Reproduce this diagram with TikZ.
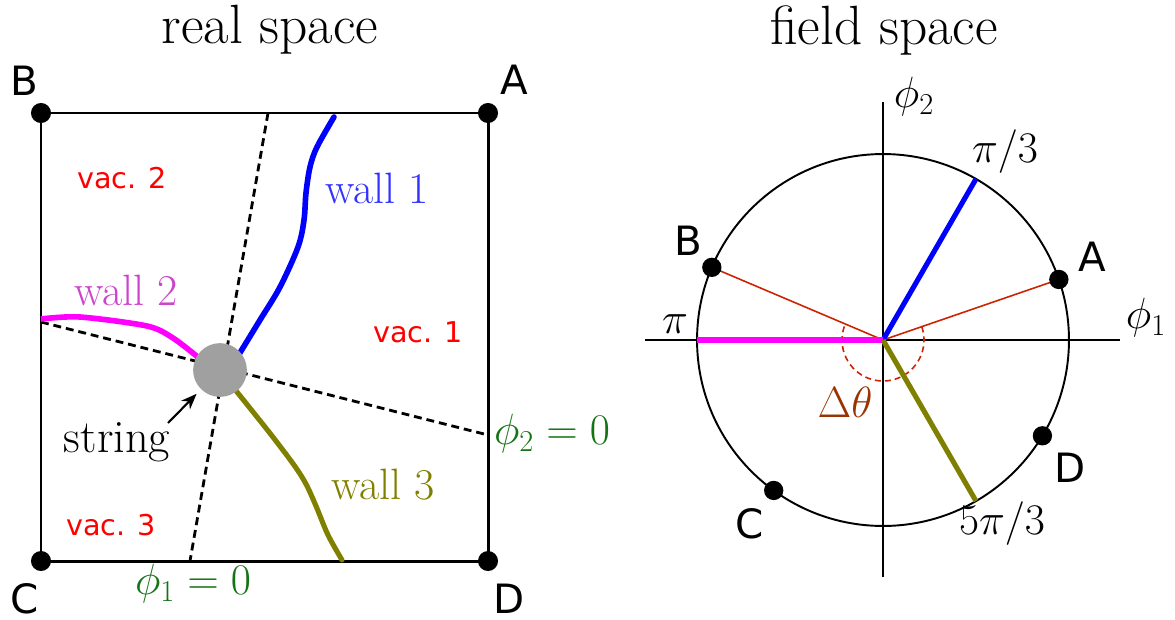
\documentclass[tikz,border=0pt]{standalone}
\usepackage{fontspec}
\newfontfamily\dejavu{DejaVu Sans}
\usetikzlibrary{arrows.meta,calc}
\definecolor{wallblue}{RGB}{0,0,255}
\definecolor{wallbluetext}{RGB}{51,51,255}
\definecolor{wallmag}{RGB}{255,0,255}
\definecolor{wallmagtext}{RGB}{204,68,204}
\definecolor{wallolive}{RGB}{128,128,0}
\definecolor{phigreen}{RGB}{20,115,20}
\definecolor{vacred}{RGB}{255,0,0}
\definecolor{linered}{RGB}{204,34,0}
\definecolor{dtheta}{RGB}{153,51,0}
\definecolor{strgray}{RGB}{160,160,160}
\tikzset{
  cornerdot/.style={circle,fill=black,inner sep=0pt,minimum size=11.4pt},
  cornerlbl/.style={font=\dejavu\fontsize{23}{27}\selectfont,inner sep=0pt},
  vaclbl/.style={font=\dejavu\fontsize{16.3}{19}\selectfont,text=vacred,inner sep=0pt},
  titlelbl/.style={font=\fontsize{31.5}{36}\selectfont,inner sep=0pt},
  walllbl/.style={font=\fontsize{25}{29}\selectfont,inner sep=0pt},
  mathlbl/.style={font=\fontsize{23}{27}\selectfont,inner sep=0pt},
  border/.style={line width=1.7pt},
  zeroline/.style={line width=1.6pt,dash pattern=on 4.5pt off 2.8pt},
  wallline/.style={line width=3.2pt,line cap=round},
  fieldline/.style={line width=2.9pt},
  axisline/.style={line width=1.1pt},
  redline/.style={line width=0.9pt,draw=linered},
}
\begin{document}
\begin{tikzpicture}[x=0.02cm,y=-0.02cm]
\useasboundingbox (0,0) rectangle (1175,619);
% ---------------- real space ----------------
\node[titlelbl] (t1) at (270,30) {real space};
\coordinate (Bc) at (41,113);
\coordinate (Ac) at (488,113);
\coordinate (Cc) at (41,561);
\coordinate (Dc) at (488,561);
\draw[border] (Bc) -- (Ac) -- (Dc) -- (Cc) -- cycle;
% zero lines
\coordinate (p1top) at (268,113);
\coordinate (p1bot) at (190,561);
\coordinate (p2left) at (41,322);
\coordinate (p2right) at (488,435);
\draw[zeroline] (p1top) -- (p1bot);
\draw[zeroline] (p2left) -- (p2right);
% walls
\draw[wallline,draw=wallblue] plot[smooth,tension=0.55] coordinates {(238,356) (260,320) (280,287) (298,247) (304,220) (306,193) (310,167) (317,147) (334,117)};
\draw[wallline,draw=wallmag,line cap=butt] plot[smooth,tension=0.5] coordinates {(41,319) (80,317) (147,326) (173,338) (199,358)};
\draw[wallline,draw=wallolive,line width=2.9pt] plot[smooth,tension=0.5] coordinates {(233,387) (269,432) (294,465) (306,484) (316,506) (328,535) (342,560)};
% string
\node[circle,fill=strgray,minimum size=30.6pt,inner sep=0pt] (string) at (220,370) {};
\node[walllbl,font=\fontsize{26.4}{30}\selectfont] (strlbl) at (117,442) {string};
\coordinate (arrtail) at (168,423);
\draw[line width=1.2pt,-{Stealth[length=9pt,width=7pt]},shorten >=3.5pt] (arrtail) -- (string);
% corner dots
\node[cornerdot] (B) at (Bc) {};
\node[cornerdot] (A) at (Ac) {};
\node[cornerdot] (C) at (Cc) {};
\node[cornerdot] (D) at (Dc) {};
\node[cornerlbl] (Bl) at (24,81) {B};
\node[cornerlbl] (Al) at (514,80) {A};
\node[cornerlbl] (Cl) at (25,599) {C};
\node[cornerlbl] (Dl) at (509,599) {D};
% labels
\node[vaclbl] (v2) at (122,178) {vac. 2};
\node[vaclbl] (v1) at (418,332) {vac. 1};
\node[vaclbl] (v3) at (111,525) {vac. 3};
\node[walllbl,text=wallbluetext] (w1) at (377,188) {wall 1};
\node[walllbl,text=wallmagtext] (w2) at (126,290) {wall 2};
\node[walllbl,text=wallolive] (w3) at (383,485) {wall 3};
\node[mathlbl,text=phigreen] (z2) at (552,434) {$\phi_2=0$};
\node[mathlbl,text=phigreen] (z1) at (193,584) {$\phi_1=0$};
% ---------------- field space ----------------
\node[titlelbl] (t2) at (884,30) {field space};
\begin{scope}[shift={(883,340)},x=0.02cm,y=0.02cm]
  \coordinate (O) at (0,0);
  \coordinate (xl) at (-238,0);
  \coordinate (xr) at (237,0);
  \coordinate (yt) at (0,238);
  \coordinate (yb) at (0,-237);
  \draw[axisline] (xl) -- (xr);
  \draw[axisline] (yb) -- (yt);
  \draw[axisline] (O) circle[radius=3.72cm];
  \coordinate (Ap) at (19:3.72cm);
  \coordinate (Bp) at (157:3.72cm);
  \coordinate (Cp) at (234:3.72cm);
  \coordinate (Dp) at (329:3.72cm);
  \coordinate (e1) at (60:3.72cm);
  \coordinate (e2) at (180:3.72cm);
  \coordinate (e3) at (300:3.72cm);
  \draw[redline] (O) -- (Ap);
  \draw[redline] (O) -- (Bp);
  \draw[redline,dash pattern=on 3.4pt off 2.3pt] (19:0.82cm) arc[start angle=19,end angle=-203,radius=0.82cm];
  \draw[fieldline,draw=wallblue] (O) -- (e1);
  \draw[fieldline,draw=wallmag] (O) -- (e2);
  \draw[fieldline,draw=wallolive] (O) -- (e3);
  \node[cornerdot,minimum size=11pt] (fA) at (Ap) {};
  \node[cornerdot,minimum size=11pt] (fB) at (Bp) {};
  \node[cornerdot,minimum size=11pt] (fC) at (Cp) {};
  \node[cornerdot,minimum size=11pt] (fD) at (Dp) {};
\end{scope}
\node[mathlbl] (phi2) at (914,97) {$\phi_2$};
\node[mathlbl] (phi1) at (1146,318) {$\phi_1$};
\node[mathlbl] (pi3) at (1005,152) {$\pi/3$};
\node[mathlbl] (pi) at (675,324) {$\pi$};
\node[mathlbl] (pi53) at (1002,524) {$5\pi/3$};
\node[mathlbl,text=dtheta] (dth) at (845,402) {$\Delta\theta$};
\node[cornerlbl] (fBl) at (688,241) {B};
\node[cornerlbl] (fAl) at (1092,257) {A};
\node[cornerlbl] (fCl) at (750,524) {C};
\node[cornerlbl] (fDl) at (1070,468) {D};
\end{tikzpicture}
\end{document}
